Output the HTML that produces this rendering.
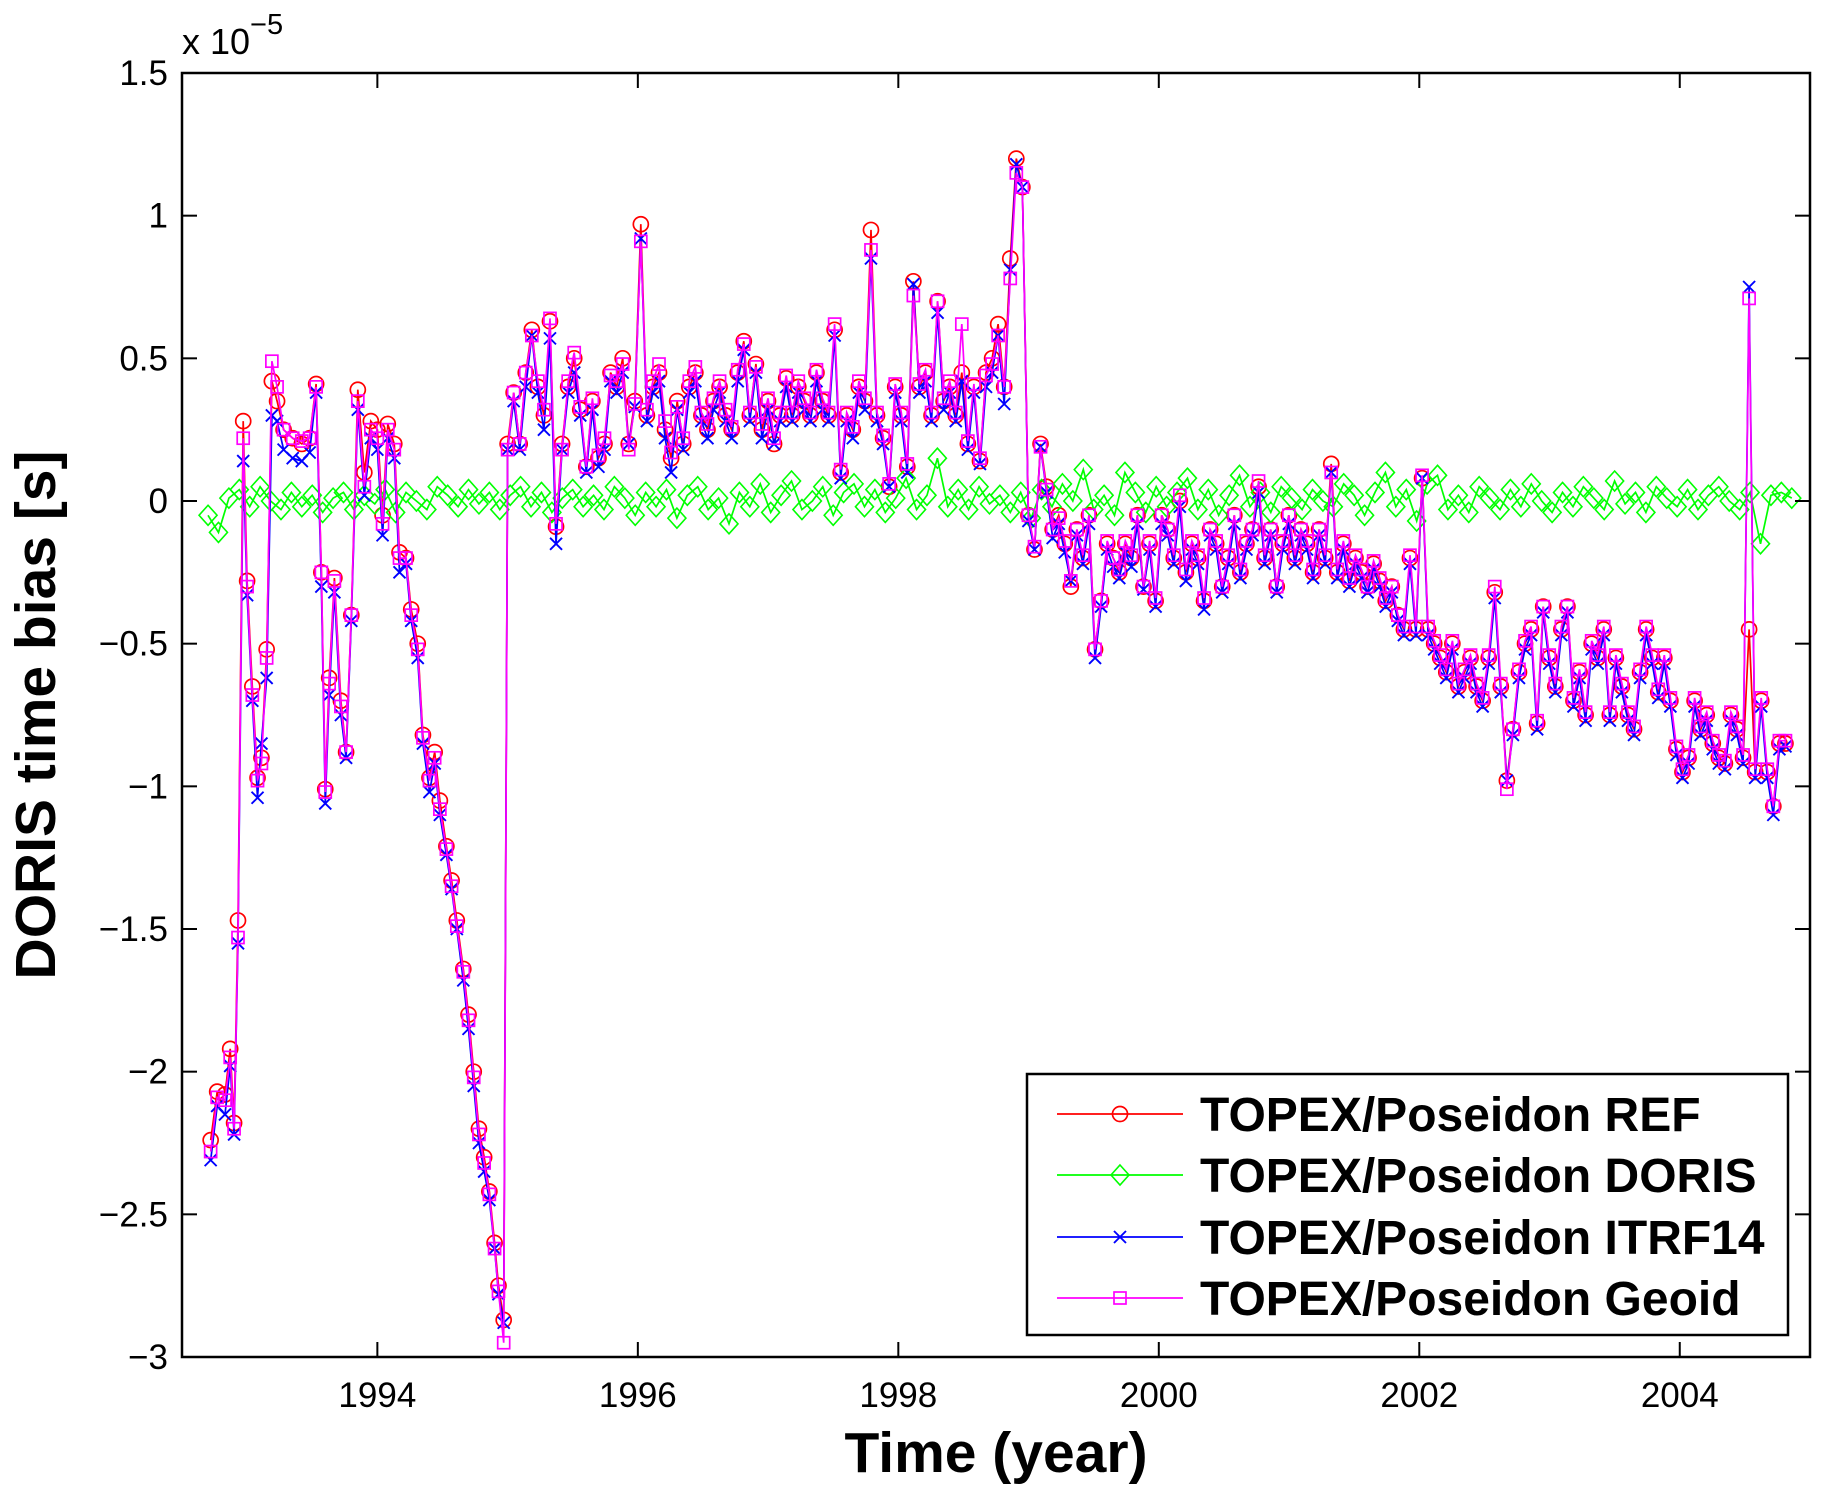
<!DOCTYPE html>
<html><head><meta charset="utf-8"><style>
html,body{margin:0;padding:0;background:#fff;}
svg{display:block;font-family:"Liberation Sans",Arial,sans-serif;}
</style></head><body>
<svg id="chart" width="1829" height="1491" viewBox="0 0 1829 1491" xmlns="http://www.w3.org/2000/svg">
<rect x="0" y="0" width="1829" height="1491" fill="#fff"/>
<g id="plot"></g>
<g id="axes"></g>
<text x="182" y="54" font-size="36">x 10<tspan dy="-20" font-size="29">−5</tspan></text>
<text x="996" y="1472" font-size="57" font-weight="bold" text-anchor="middle">Time (year)</text>
<text x="0" y="0" font-size="57" font-weight="bold" text-anchor="middle" transform="translate(55,715) rotate(-90)">DORIS time bias [s]</text>
<g id="legend"></g>
</svg>
<script>
const xTicks=[1994,1996,1998,2000,2002,2004];
const yTicks=[1.5,1,0.5,0,-0.5,-1,-1.5,-2,-2.5,-3];
const yTickLabels=["1.5","1","0.5","0","−0.5","−1","−1.5","−2","−2.5","−3"];
const earlyTimes=[1992.72,1992.77,1992.83,1992.87,1992.90,1992.93,1992.97,1993.00,1993.04,1993.08,1993.11,1993.15,1993.19,1993.23,1993.28,1993.35,1993.42,1993.48,1993.53,1993.57,1993.60,1993.63,1993.67,1993.72,1993.76,1993.80,1993.85,1993.90,1993.95,1994.00,1994.04,1994.08,1994.13,1994.17,1994.22,1994.26,1994.31,1994.35,1994.40,1994.44,1994.48,1994.53,1994.57,1994.61,1994.66,1994.70,1994.74,1994.78,1994.82,1994.86,1994.90,1994.93,1994.97];
const lateStart=1995.0, lateStep=0.0465;
const refEarly=[-2.24,-2.07,-2.08,-1.92,-2.18,-1.47,0.28,-0.28,-0.65,-0.97,-0.90,-0.52,0.42,0.35,0.25,0.22,0.20,0.22,0.41,-0.25,-1.01,-0.62,-0.27,-0.70,-0.88,-0.40,0.39,0.10,0.28,0.25,-0.05,0.27,0.20,-0.18,-0.20,-0.38,-0.50,-0.82,-0.97,-0.88,-1.05,-1.21,-1.33,-1.47,-1.64,-1.80,-2.00,-2.20,-2.30,-2.42,-2.60,-2.75,-2.87];
const itrfEarly=[-2.31,-2.12,-2.15,-1.98,-2.22,-1.55,0.14,-0.33,-0.70,-1.04,-0.85,-0.62,0.30,0.28,0.18,0.15,0.14,0.17,0.38,-0.30,-1.06,-0.68,-0.32,-0.75,-0.90,-0.42,0.32,0.02,0.22,0.18,-0.12,0.22,0.15,-0.25,-0.22,-0.42,-0.55,-0.85,-1.02,-0.92,-1.10,-1.24,-1.36,-1.50,-1.68,-1.85,-2.05,-2.25,-2.35,-2.45,-2.62,-2.78,-2.88];
const geoidEarly=[-2.28,-2.09,-2.10,-1.95,-2.20,-1.53,0.22,-0.30,-0.68,-0.98,-0.92,-0.55,0.49,0.40,0.25,0.22,0.21,0.22,0.40,-0.25,-1.02,-0.64,-0.28,-0.72,-0.88,-0.40,0.35,0.05,0.25,0.22,-0.08,0.25,0.18,-0.20,-0.20,-0.40,-0.52,-0.83,-0.98,-0.90,-1.08,-1.22,-1.35,-1.49,-1.65,-1.82,-2.02,-2.22,-2.32,-2.43,-2.62,-2.77,-2.95];
const refLate=[0.20,0.38,0.20,0.45,0.60,0.40,0.30,0.63,-0.09,0.20,0.40,0.50,0.32,0.12,0.35,0.15,0.20,0.45,0.40,0.50,0.20,0.35,0.97,0.30,0.40,0.45,0.25,0.15,0.35,0.20,0.40,0.45,0.30,0.25,0.35,0.40,0.30,0.25,0.45,0.56,0.30,0.48,0.25,0.35,0.20,0.30,0.43,0.30,0.40,0.35,0.30,0.45,0.35,0.30,0.60,0.10,0.30,0.25,0.40,0.35,0.95,0.30,0.22,0.05,0.40,0.30,0.12,0.77,0.40,0.45,0.30,0.70,0.35,0.40,0.30,0.45,0.20,0.40,0.14,0.45,0.50,0.62,0.40,0.85,1.20,1.10,
-0.05,-0.17,0.20,0.05,-0.10,-0.05,-0.15,-0.30,-0.10,-0.20,-0.05,-0.52,-0.35,-0.15,-0.20,-0.25,-0.15,-0.20,-0.05,-0.30,-0.15,-0.35,-0.05,-0.10,-0.20,0.00,-0.25,-0.15,-0.20,-0.35,-0.10,-0.15,-0.30,-0.20,-0.05,-0.25,-0.15,-0.10,0.05,-0.20,-0.10,-0.30,-0.15,-0.05,-0.20,-0.10,-0.15,-0.25,-0.10,-0.20,0.13,-0.25,-0.15,-0.28,-0.20,-0.25,-0.30,-0.22,-0.28,-0.35,-0.30,-0.40,-0.45,-0.20,-0.45,0.08,-0.45,-0.50,-0.55,-0.60,-0.50,-0.65,-0.60,-0.55,-0.65,-0.70,-0.55,-0.32,-0.65,-0.98,-0.80,-0.60,-0.50,-0.45,-0.78,-0.37,-0.55,-0.65,-0.45,-0.37,-0.70,-0.60,-0.75,-0.50,-0.55,-0.45,-0.75,-0.55,-0.65,-0.75,-0.80,-0.60,-0.45,-0.55,-0.67,-0.55,-0.70,-0.87,-0.95,-0.90,-0.70,-0.80,-0.75,-0.85,-0.90,-0.92,-0.75,-0.80,-0.90,-0.45,-0.95,-0.70,-0.95,-1.07,-0.85,-0.85];
const itrfLate=[0.18,0.35,0.18,0.40,0.58,0.38,0.25,0.57,-0.15,0.18,0.38,0.45,0.30,0.10,0.32,0.12,0.18,0.42,0.38,0.45,0.20,0.33,0.92,0.28,0.38,0.42,0.22,0.10,0.32,0.18,0.38,0.42,0.28,0.22,0.32,0.38,0.28,0.22,0.42,0.53,0.28,0.45,0.22,0.32,0.20,0.28,0.40,0.28,0.38,0.32,0.28,0.42,0.32,0.28,0.58,0.08,0.28,0.22,0.38,0.32,0.85,0.28,0.20,0.05,0.38,0.28,0.10,0.76,0.38,0.42,0.28,0.66,0.32,0.38,0.28,0.42,0.18,0.38,0.13,0.40,0.45,0.58,0.34,0.81,1.18,1.10,
-0.07,-0.17,0.19,0.03,-0.13,-0.08,-0.18,-0.28,-0.12,-0.22,-0.08,-0.55,-0.37,-0.17,-0.23,-0.27,-0.18,-0.23,-0.08,-0.31,-0.17,-0.37,-0.08,-0.12,-0.22,-0.02,-0.28,-0.17,-0.22,-0.38,-0.12,-0.17,-0.32,-0.22,-0.08,-0.27,-0.17,-0.12,0.03,-0.22,-0.12,-0.32,-0.17,-0.08,-0.22,-0.12,-0.17,-0.27,-0.12,-0.22,0.10,-0.27,-0.17,-0.30,-0.22,-0.27,-0.32,-0.24,-0.30,-0.37,-0.32,-0.42,-0.47,-0.22,-0.47,0.08,-0.47,-0.52,-0.57,-0.62,-0.52,-0.67,-0.62,-0.57,-0.67,-0.72,-0.57,-0.34,-0.67,-0.98,-0.82,-0.62,-0.52,-0.47,-0.80,-0.39,-0.57,-0.67,-0.47,-0.39,-0.72,-0.62,-0.77,-0.52,-0.57,-0.47,-0.77,-0.57,-0.67,-0.77,-0.82,-0.62,-0.47,-0.57,-0.69,-0.57,-0.72,-0.89,-0.97,-0.92,-0.72,-0.82,-0.77,-0.87,-0.92,-0.94,-0.77,-0.82,-0.92,0.75,-0.97,-0.72,-0.97,-1.10,-0.87,-0.86];
const geoidLate=[0.18,0.38,0.20,0.45,0.58,0.42,0.32,0.64,-0.08,0.18,0.42,0.52,0.33,0.12,0.36,0.16,0.22,0.44,0.42,0.48,0.18,0.34,0.91,0.32,0.42,0.48,0.28,0.17,0.33,0.22,0.42,0.47,0.31,0.27,0.36,0.42,0.32,0.26,0.46,0.55,0.31,0.47,0.27,0.36,0.22,0.31,0.44,0.31,0.42,0.36,0.31,0.46,0.36,0.31,0.62,0.11,0.31,0.26,0.42,0.36,0.88,0.31,0.23,0.06,0.41,0.31,0.13,0.72,0.41,0.46,0.31,0.70,0.36,0.42,0.31,0.62,0.21,0.41,0.15,0.44,0.48,0.58,0.40,0.78,1.15,1.10,
-0.05,-0.16,0.19,0.04,-0.10,-0.06,-0.14,-0.28,-0.10,-0.19,-0.05,-0.52,-0.35,-0.14,-0.20,-0.24,-0.14,-0.19,-0.05,-0.30,-0.14,-0.34,-0.05,-0.10,-0.19,0.02,-0.24,-0.14,-0.19,-0.34,-0.10,-0.14,-0.30,-0.19,-0.05,-0.24,-0.14,-0.10,0.07,-0.19,-0.10,-0.30,-0.14,-0.05,-0.19,-0.10,-0.14,-0.24,-0.10,-0.19,0.10,-0.24,-0.14,-0.27,-0.19,-0.24,-0.30,-0.21,-0.27,-0.34,-0.30,-0.40,-0.44,-0.19,-0.44,0.09,-0.44,-0.49,-0.54,-0.59,-0.49,-0.64,-0.59,-0.54,-0.64,-0.69,-0.54,-0.30,-0.64,-1.01,-0.80,-0.59,-0.49,-0.44,-0.77,-0.37,-0.54,-0.64,-0.44,-0.37,-0.69,-0.59,-0.74,-0.49,-0.54,-0.44,-0.74,-0.54,-0.64,-0.74,-0.79,-0.59,-0.44,-0.54,-0.66,-0.54,-0.69,-0.86,-0.94,-0.89,-0.69,-0.79,-0.74,-0.84,-0.89,-0.91,-0.74,-0.79,-0.89,0.71,-0.94,-0.69,-0.94,-1.07,-0.84,-0.84];
const dorisStart=1992.70, dorisStep=0.08;
const dorisValues=[-0.05,-0.11,0.01,0.04,-0.02,0.05,0.00,-0.03,0.03,-0.02,0.02,-0.04,0.01,0.03,-0.03,0.02,-0.01,0.04,-0.04,0.03,
0.00,-0.03,0.05,0.02,-0.02,0.04,-0.01,0.03,-0.03,0.02,0.05,-0.02,0.03,-0.04,0.01,0.04,-0.02,0.02,-0.03,0.05,
0.01,-0.05,0.03,-0.02,0.04,-0.06,0.02,0.05,-0.03,0.01,-0.08,0.03,-0.02,0.06,-0.04,0.02,0.07,-0.03,0.00,0.05,
-0.05,0.03,0.06,-0.02,0.04,-0.04,0.01,0.08,-0.03,0.02,0.15,-0.02,0.04,-0.03,0.05,-0.01,0.02,-0.04,0.03,-0.06,
0.04,-0.02,0.06,0.00,0.11,-0.03,0.02,-0.05,0.10,0.03,-0.04,0.05,-0.02,0.03,0.08,-0.03,0.04,-0.05,0.02,0.09,
-0.02,0.03,-0.04,0.05,0.01,-0.03,0.04,0.00,-0.02,0.06,0.02,-0.05,0.03,0.10,-0.02,0.04,-0.07,0.06,0.09,-0.03,
0.02,-0.04,0.05,0.01,-0.03,0.04,-0.02,0.06,0.00,-0.04,0.03,-0.02,0.05,0.01,-0.03,0.07,-0.01,0.03,-0.04,0.05,
0.01,-0.02,0.04,-0.03,0.02,0.05,0.00,-0.03,0.03,-0.15,0.02,0.03,0.01];
const seriesNames=["TOPEX/Poseidon REF","TOPEX/Poseidon DORIS","TOPEX/Poseidon ITRF14","TOPEX/Poseidon Geoid"];

const X0=182,X1=1810,Y0=73,Y1=1357,XMIN=1992.5,XMAX=2005,YMIN=-3,YMAX=1.5;
function sx(t){return X0+(t-XMIN)/(XMAX-XMIN)*(X1-X0);}
function sy(v){return Y1-(v-YMIN)/(YMAX-YMIN)*(Y1-Y0);}
const NS="http://www.w3.org/2000/svg";
function mk(tag,attrs,parent){const e=document.createElementNS(NS,tag);for(const k in attrs)e.setAttribute(k,attrs[k]);parent.appendChild(e);return e;}

const lateTimes=refLate.map((_,i)=>lateStart+i*lateStep);
const mainTimes=earlyTimes.concat(lateTimes);
const dorisTimes=dorisValues.map((_,i)=>dorisStart+i*dorisStep);

function marker(kind,x,y,color,parent){
  let e;
  if(kind==='o'){e=mk('circle',{cx:x,cy:y,r:7.5,fill:'none',stroke:color,'stroke-width':1.7},parent);}
  else if(kind==='d'){e=mk('polygon',{points:`${x},${y-10} ${x+9},${y} ${x},${y+10} ${x-9},${y}`,fill:'none',stroke:color,'stroke-width':1.6},parent);}
  else if(kind==='x'){e=mk('path',{d:`M${x-6},${y-6}L${x+6},${y+6}M${x-6},${y+6}L${x+6},${y-6}`,stroke:color,'stroke-width':1.9,fill:'none'},parent);}
  else {e=mk('rect',{x:x-6,y:y-6,width:12,height:12,fill:'none',stroke:color,'stroke-width':1.7},parent);}
  return e;
}
const plot=document.getElementById('plot');
function drawSeries(times,vals,color,kind,name){
  const g=mk('g',{},plot);
  
  
  const pts=times.map((t,i)=>sx(t).toFixed(1)+','+sy(vals[i]).toFixed(1)).join(' ');
  const pl=mk('polyline',{points:pts,fill:'none',stroke:color,'stroke-width':1.7},g);
  
  
  times.forEach((t,i)=>{
    const m=marker(kind,sx(t),sy(vals[i]),color,g);
    
    
  });
}
drawSeries(mainTimes,refEarly.concat(refLate),'#ff0000','o','series-ref');
drawSeries(dorisTimes,dorisValues,'#00ff00','d','series-doris');
drawSeries(mainTimes,itrfEarly.concat(itrfLate),'#0000ff','x','series-itrf14');
drawSeries(mainTimes,geoidEarly.concat(geoidLate),'#ff00ff','s','series-geoid');

const axes=document.getElementById('axes');
const frame=mk('rect',{x:X0,y:Y0,width:X1-X0,height:Y1-Y0,fill:'none',stroke:'#000','stroke-width':2.5},axes);


xTicks.forEach(t=>{
  const x=sx(t);
  mk('line',{x1:x,y1:Y1,x2:x,y2:Y1-15,stroke:'#000','stroke-width':2},axes);
  mk('line',{x1:x,y1:Y0,x2:x,y2:Y0+15,stroke:'#000','stroke-width':2},axes);
  const tx=mk('text',{x:x,y:Y1+50,'font-size':35,'text-anchor':'middle'},axes);
  tx.textContent=t;
  
  
});
yTicks.forEach((v,i)=>{
  const y=sy(v);
  mk('line',{x1:X0,y1:y,x2:X0+15,y2:y,stroke:'#000','stroke-width':2},axes);
  mk('line',{x1:X1,y1:y,x2:X1-15,y2:y,stroke:'#000','stroke-width':2},axes);
  const tx=mk('text',{x:X0-14,y:y+12,'font-size':35,'text-anchor':'end'},axes);
  tx.textContent=yTickLabels[i];
  
  
});

const lg=document.getElementById('legend');
const box=mk('rect',{x:1027,y:1074,width:761,height:261,fill:'#fff',stroke:'#000','stroke-width':2.5},lg);


const lcolors=['#ff0000','#00ff00','#0000ff','#ff00ff'];
const lkinds=['o','d','x','s'];
const lys=[1114,1175,1237,1298];
seriesNames.forEach((n,i)=>{
  const g=mk('g',{},lg);
  
  
  mk('line',{x1:1057,y1:lys[i],x2:1183,y2:lys[i],stroke:lcolors[i],'stroke-width':1.8},g);
  marker(lkinds[i],1120,lys[i],lcolors[i],g);
  const tx=mk('text',{x:1200,y:lys[i]+17,'font-size':48,'font-weight':'bold'},g);
  tx.textContent=n;
});
</script>
</body></html>
